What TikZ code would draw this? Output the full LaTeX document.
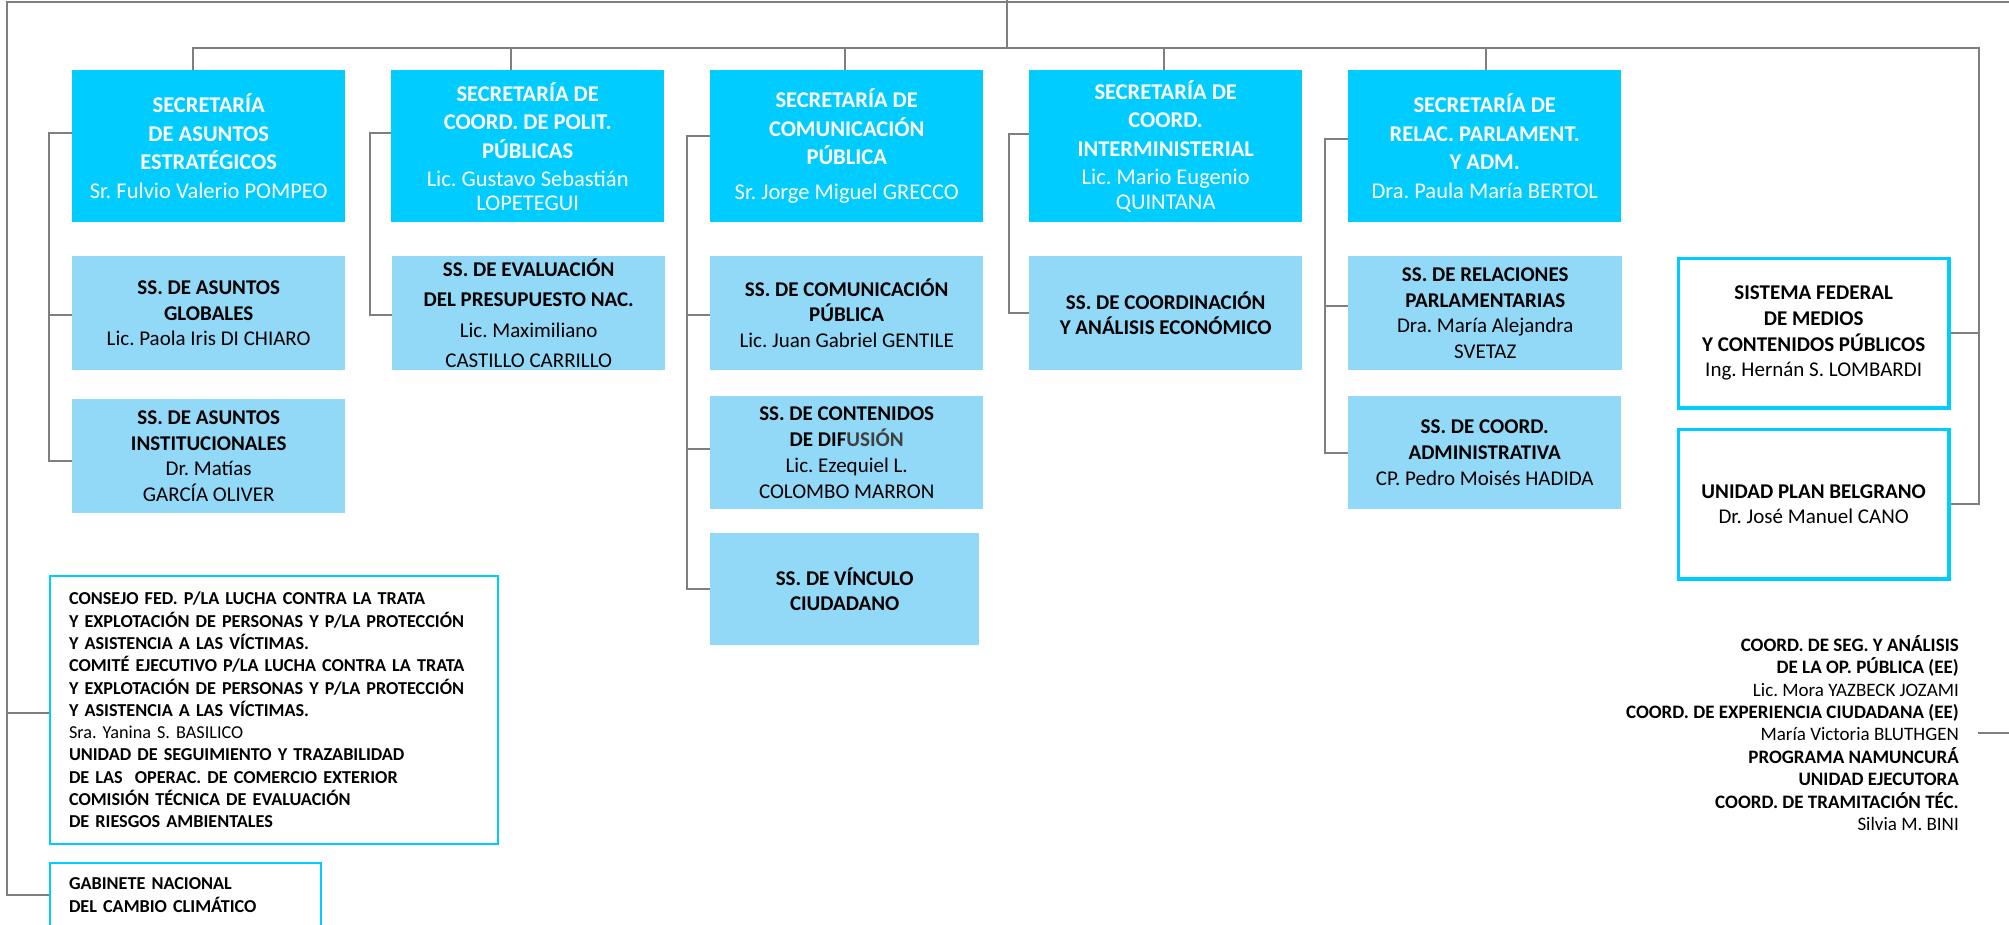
\documentclass[tikz,border=0pt]{standalone}
\usepackage{fontspec}
\setmainfont{Carlito}
\frenchspacing
\definecolor{secc}{HTML}{00CCFF}
\definecolor{ssc}{HTML}{92D9F8}
\definecolor{linec}{HTML}{7F7F7F}
\definecolor{difc}{HTML}{404040}
\begin{document}
\frenchspacing
\begin{tikzpicture}[x=1pt,y=-1pt,
  sec/.style={fill=secc, text=white, inner sep=0pt, anchor=north west,
    minimum width=273pt, minimum height=152pt, align=center,
    font=\fontsize{22.5}{28.5}\selectfont},
  ss/.style={fill=ssc, text=black, inner sep=0pt, anchor=north west,
    minimum width=273pt, minimum height=114pt, align=center,
    font=\fontsize{21}{25.7}\selectfont},
  outl/.style={draw=secc, line width=3.3pt, inner sep=0pt, anchor=north west,
    minimum width=270.8pt, minimum height=149.8pt, align=center,
    font=\fontsize{21}{25.7}\selectfont},
  thinbox/.style={draw=secc, line width=2pt, inner ysep=0pt, inner xsep=19pt,
    anchor=north west, align=left, font=\fontsize{18.2}{22.3}\selectfont},
  conn/.style={draw=linec, line width=2.3pt},
]
\useasboundingbox (0,0) rectangle (2009,924);
\clip (0,0) rectangle (2009,924);

% top level boxes
\node[sec] (B1) at (72,70) {\textbf{SECRETARÍA}\\\textbf{DE ASUNTOS}\\\textbf{ESTRATÉGICOS}\\Sr. Fulvio Valerio POMPEO};
\node[sec] (B2) at (391,70) {\textbf{SECRETARÍA DE}\\\textbf{COORD. DE POLIT.}\\\textbf{PÚBLICAS}\\Lic. Gustavo Sebastián\\[-5pt]LOPETEGUI};
\node[sec] (B3) at (710,70) {\textbf{SECRETARÍA DE}\\\textbf{COMUNICACIÓN}\\\textbf{PÚBLICA}\\[6pt]Sr. Jorge Miguel GRECCO};
\node[sec] (B4) at (1029,70) {\textbf{SECRETARÍA DE}\\\textbf{COORD.}\\\textbf{INTERMINISTERIAL}\\Lic. Mario Eugenio\\[-4pt]QUINTANA};
\node[sec] (B5) at (1348,70) {\textbf{SECRETARÍA DE}\\\textbf{RELAC. PARLAMENT.}\\\textbf{Y ADM.}\\Dra. Paula María BERTOL};

% second level boxes
\node[ss] (S11) at (72,256) {\textbf{SS. DE ASUNTOS}\\\textbf{GLOBALES}\\Lic. Paola Iris DI CHIARO};
\node[ss] (S12) at (72,399) {\textbf{SS. DE ASUNTOS}\\\textbf{INSTITUCIONALES}\\Dr. Matías\\GARCÍA OLIVER};
\node[ss, font=\fontsize{21}{30.5}\selectfont] (S21) at (392,256) {\textbf{SS. DE EVALUACIÓN}\\\textbf{DEL PRESUPUESTO NAC.}\\Lic. Maximiliano\\CASTILLO CARRILLO};
\node[ss] (S31) at (710,256) {\textbf{SS. DE COMUNICACIÓN}\\\textbf{PÚBLICA}\\Lic. Juan Gabriel GENTILE};
\node[ss, minimum height=113pt] (S32) at (710,396) {\textbf{SS. DE CONTENIDOS}\\\textbf{DE DIF\textcolor{difc}{USIÓN}}\\Lic. Ezequiel L.\\COLOMBO MARRON};
\node[ss, minimum width=269pt, minimum height=112pt] (S33) at (710,533) {\textbf{SS. DE VÍNCULO}\\\textbf{CIUDADANO}};
\node[ss] (S41) at (1029,256) {\textbf{SS. DE COORDINACIÓN}\\\textbf{Y ANÁLISIS ECONÓMICO}};
\node[ss, minimum width=274pt] (S51) at (1348,256) {\textbf{SS. DE RELACIONES}\\\textbf{PARLAMENTARIAS}\\Dra. María Alejandra\\SVETAZ};
\node[ss, minimum height=113pt] (S52) at (1348,396) {\textbf{SS. DE COORD.}\\\textbf{ADMINISTRATIVA}\\CP. Pedro Moisés HADIDA};

% outlined boxes on the right
\node[outl] (SFM) at (1676.6,256.6) {\textbf{SISTEMA FEDERAL}\\\textbf{DE MEDIOS}\\\textbf{Y CONTENIDOS PÚBLICOS}\\Ing. Hernán S. LOMBARDI};
\node[outl] (UPB) at (1676.6,427.6) {\textbf{UNIDAD PLAN BELGRANO}\\Dr. José Manuel CANO};

% bottom left boxes
\node[thinbox, text width=410pt, minimum height=268pt] (BL) at (49,575) {\textbf{CONSEJO FED. P/LA LUCHA CONTRA LA TRATA}\\\textbf{Y EXPLOTACIÓN DE PERSONAS Y P/LA PROTECCIÓN}\\\textbf{Y ASISTENCIA A LAS VÍCTIMAS.}\\\textbf{COMITÉ EJECUTIVO P/LA LUCHA CONTRA LA TRATA}\\\textbf{Y EXPLOTACIÓN DE PERSONAS Y P/LA PROTECCIÓN}\\\textbf{Y ASISTENCIA A LAS VÍCTIMAS.}\\Sra. Yanina S. BASILICO\\\textbf{UNIDAD DE SEGUIMIENTO Y TRAZABILIDAD}\\\textbf{DE LAS\ \ OPERAC. DE COMERCIO EXTERIOR}\\\textbf{COMISIÓN TÉCNICA DE EVALUACIÓN}\\\textbf{DE RIESGOS AMBIENTALES}};
\node[thinbox, text width=233pt, minimum height=64pt] (GAB) at (49,862) {\textbf{GABINETE NACIONAL}\\\textbf{DEL CAMBIO CLIMÁTICO}};

% right text block
\node[inner ysep=0pt, inner xsep=19pt, anchor=east, align=right, font=\fontsize{19}{22.4}\selectfont] (RT) at (1978,733) {\textbf{COORD. DE SEG. Y ANÁLISIS}\\\textbf{DE LA OP. PÚBLICA (EE)}\\Lic. Mora YAZBECK JOZAMI\\\textbf{COORD. DE EXPERIENCIA CIUDADANA (EE)}\\María Victoria BLUTHGEN\\\textbf{PROGRAMA NAMUNCURÁ}\\\textbf{UNIDAD EJECUTORA}\\\textbf{COORD. DE TRAMITACIÓN TÉC.}\\Silvia M. BINI};

% coordinates
\coordinate (top) at (1007,0);
\coordinate (tl) at (7,2);
\coordinate (tr) at (2009,2);
\coordinate (busL) at (193,48);
\coordinate (busR) at (1979,48);
\coordinate (d2) at (511,48);
\coordinate (d3) at (845,48);
\coordinate (d4) at (1164,48);
\coordinate (d5) at (1486,48);
\coordinate (c1) at (49,133);
\coordinate (c2) at (370,133);
\coordinate (c3) at (687,136);
\coordinate (c4) at (1009,134);
\coordinate (c5) at (1325,139);
\coordinate (redge) at (2009,733);

% connectors
\draw[conn] (tr) -- (tl) |- (GAB.west);
\draw[conn] ([yshift=-3pt]BL.west) -- ([yshift=-3pt]BL.west -| tl);
\draw[conn] (top) -- (top |- busL);
\draw[conn] (busL |- B1.north) -- (busL) -- (busR) |- (UPB.east);
\draw[conn] (SFM.east) -- (SFM.east -| busR);
\draw[conn] (d2) -- (d2 |- B2.north);
\draw[conn] (d3) -- (d3 |- B3.north);
\draw[conn] (d4) -- (d4 |- B4.north);
\draw[conn] (d5) -- (d5 |- B5.north);

\draw[conn] (c1 -| B1.west) -- (c1) |- ([yshift=-5pt]S12.west);
\draw[conn] ([yshift=-2pt]S11.west) -- ([yshift=-2pt]S11.west -| c1);
\draw[conn] (c2 -| B2.west) -- (c2) |- ([yshift=-2pt]S21.west);
\draw[conn] (c3 -| B3.west) -- (c3) |- (S33.west);
\draw[conn] ([yshift=-2pt]S31.west) -- ([yshift=-2pt]S31.west -| c3);
\draw[conn] ([yshift=3.5pt]S32.west) -- ([yshift=3.5pt]S32.west -| c3);
\draw[conn] (c4 -| B4.west) -- (c4) |- (S41.west);
\draw[conn] (c5 -| B5.west) -- (c5) |- (S52.west);
\draw[conn] ([yshift=7pt]S51.west) -- ([yshift=7pt]S51.west -| c5);
\draw[conn] (redge) -- (RT.east);
\end{tikzpicture}
\end{document}
